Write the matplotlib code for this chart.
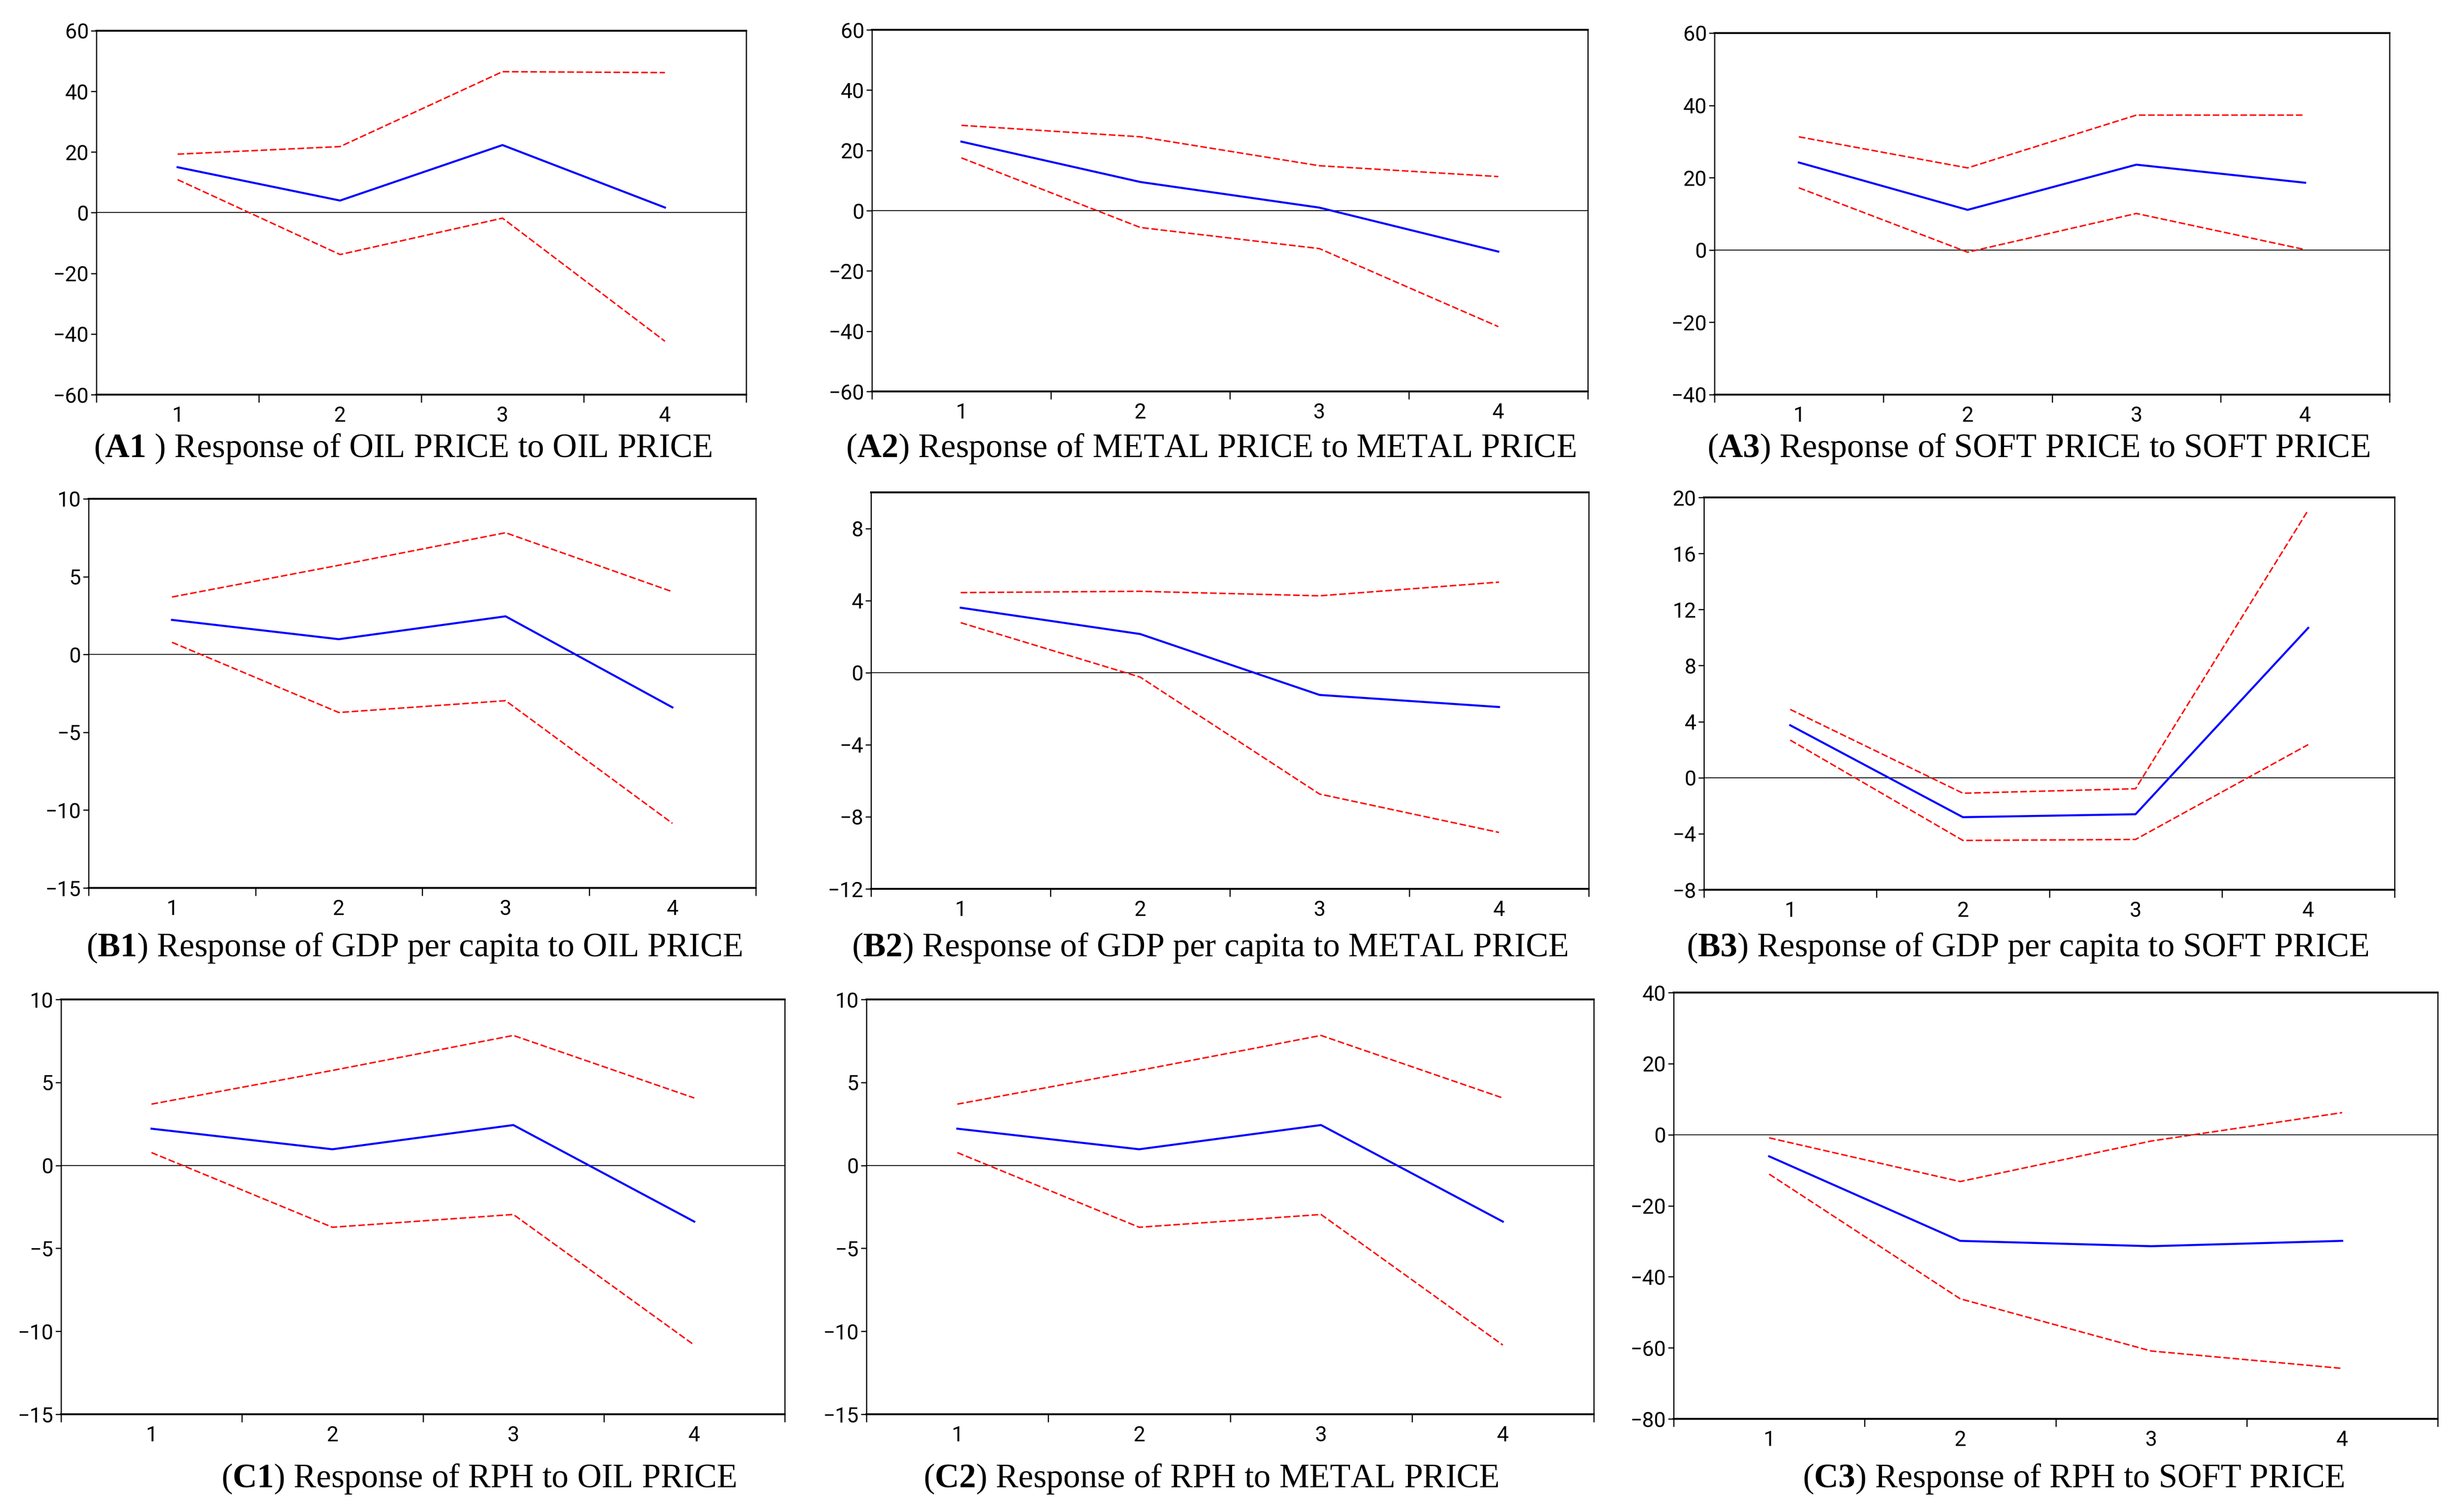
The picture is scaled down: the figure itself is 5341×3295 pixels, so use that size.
import matplotlib
matplotlib.use('Agg')
import matplotlib.pyplot as plt

plt.rcParams['font.family'] = ['Liberation Sans Narrow', 'Roboto', 'DejaVu Sans']
plt.rcParams['mathtext.fontset'] = 'custom'
plt.rcParams['mathtext.rm'] = 'Liberation Serif'
plt.rcParams['mathtext.bf'] = 'Liberation Serif:bold'

# ── DATA ──────────────────────────────────────────────────────────────────────
periods = [1, 2, 3, 4]

a1_resp = [15.0, 4.0, 22.3, 1.7]
a1_upper = [19.3, 21.8, 46.5, 46.2]
a1_lower = [10.9, -13.8, -1.8, -42.4]

a2_resp = [22.9, 9.5, 1.0, -13.6]
a2_upper = [28.3, 24.5, 14.9, 11.3]
a2_lower = [17.5, -5.6, -12.6, -38.5]

a3_resp = [24.2, 11.1, 23.6, 18.6]
a3_upper = [31.3, 22.7, 37.3, 37.3]
a3_lower = [17.2, -0.6, 10.1, 0.1]

b1_resp = [2.22, 0.98, 2.45, -3.40]
b1_upper = [3.69, 5.73, 7.82, 4.03]
b1_lower = [0.78, -3.73, -2.97, -10.85]

b2_resp = [3.60, 2.14, -1.24, -1.91]
b2_upper = [4.44, 4.51, 4.26, 5.02]
b2_lower = [2.77, -0.25, -6.74, -8.87]

b3_resp = [3.74, -2.82, -2.61, 10.69]
b3_upper = [4.87, -1.11, -0.79, 19.1]
b3_lower = [2.68, -4.48, -4.41, 2.36]

c1_resp = [2.21, 0.97, 2.43, -3.39]
c1_upper = [3.69, 5.72, 7.83, 4.06]
c1_lower = [0.77, -3.73, -2.96, -10.83]

c2_resp = [2.21, 0.97, 2.43, -3.39]
c2_upper = [3.69, 5.72, 7.83, 4.06]
c2_lower = [0.77, -3.73, -2.96, -10.83]

c3_resp = [-6.1, -29.9, -31.4, -29.9]
c3_upper = [-0.9, -13.2, -1.8, 6.2]
c3_lower = [-11.1, -46.2, -60.9, -65.8]

labels = ['A1', 'A2', 'A3', 'B1', 'B2', 'B3', 'C1', 'C2', 'C3']
captions = [
    ' ) Response of OIL PRICE to OIL PRICE',
    ') Response of METAL PRICE to METAL PRICE',
    ') Response of SOFT PRICE to SOFT PRICE',
    ') Response of GDP per capita to OIL PRICE',
    ') Response of GDP per capita to METAL PRICE',
    ') Response of GDP per capita to SOFT PRICE',
    ') Response of RPH to OIL PRICE',
    ') Response of RPH to METAL PRICE',
    ') Response of RPH to SOFT PRICE',
]

y_limits = [(-60, 60), (-60, 60), (-40, 60),
            (-15, 10), (-12, 10), (-8, 20),
            (-15, 10), (-15, 10), (-80, 40)]
y_ticks = [range(-60, 61, 20), range(-60, 61, 20), range(-40, 61, 20),
           range(-15, 11, 5), range(-12, 9, 4), range(-8, 21, 4),
           range(-15, 11, 5), range(-15, 11, 5), range(-80, 41, 20)]

responses = [a1_resp, a2_resp, a3_resp, b1_resp, b2_resp, b3_resp, c1_resp, c2_resp, c3_resp]
uppers = [a1_upper, a2_upper, a3_upper, b1_upper, b2_upper, b3_upper, c1_upper, c2_upper, c3_upper]
lowers = [a1_lower, a2_lower, a3_lower, b1_lower, b2_lower, b3_lower, c1_lower, c2_lower, c3_lower]

# ── LAYOUT (pixel boxes in the 5341x3295 canvas) ──────────────────────────────
W, H = 5341, 3295
boxes = [
    (210, 1626, 67, 860), (1900, 3460, 65, 853), (3736, 5207, 72, 860),
    (193, 1647, 1087, 1935), (1898, 3462, 1073, 1937), (3713, 5218, 1084, 1939),
    (133, 1710, 2178, 3082), (1888, 3473, 2178, 3082), (3647, 5312, 2163, 3092),
]
caption_pos = [
    (878, 978), (2638, 978), (4442, 978),
    (903, 2066), (2636, 2066), (4418, 2066),
    (1043, 3223), (2639, 3223), (4518, 3223),
]

fig = plt.figure(figsize=(W / 100, H / 100), dpi=100)

for i in range(9):
    x0, x1, y0, y1 = boxes[i]
    ax = fig.add_axes([x0 / W, 1 - y1 / H, (x1 - x0) / W, (y1 - y0) / H])

    ax.axhline(0, color='black', lw=1.3, zorder=1)
    ax.plot(periods, uppers[i], color='red', lw=2.3, ls=(0, (4.5, 1.8)), zorder=2)
    ax.plot(periods, lowers[i], color='red', lw=2.3, ls=(0, (4.5, 1.8)), zorder=2)
    ax.plot(periods, responses[i], color='blue', lw=3.2, zorder=3)

    ax.set_xlim(0.5, 4.5)
    ax.set_ylim(*y_limits[i])
    ax.set_yticks(list(y_ticks[i]))
    ax.set_xticks(periods)
    ax.set_xticks([0.5, 1.5, 2.5, 3.5, 4.5], minor=True)

    ax.tick_params(axis='x', which='major', length=0, pad=17, labelsize=33)
    ax.tick_params(axis='x', which='minor', length=12, width=1.8, direction='out')
    ax.tick_params(axis='y', which='major', length=9, width=1.8, pad=3, labelsize=33)

    for side in ['top', 'bottom']:
        ax.spines[side].set_linewidth(3)
    for side in ['left', 'right']:
        ax.spines[side].set_linewidth(1.8)

    cx, cy = caption_pos[i]
    fig.text(cx / W, 1 - cy / H, '(' + r'$\mathbf{' + labels[i] + '}$' + captions[i],
             ha='center', va='center', fontsize=53, family='Liberation Serif')

fig.savefig('out.png', dpi=100)
